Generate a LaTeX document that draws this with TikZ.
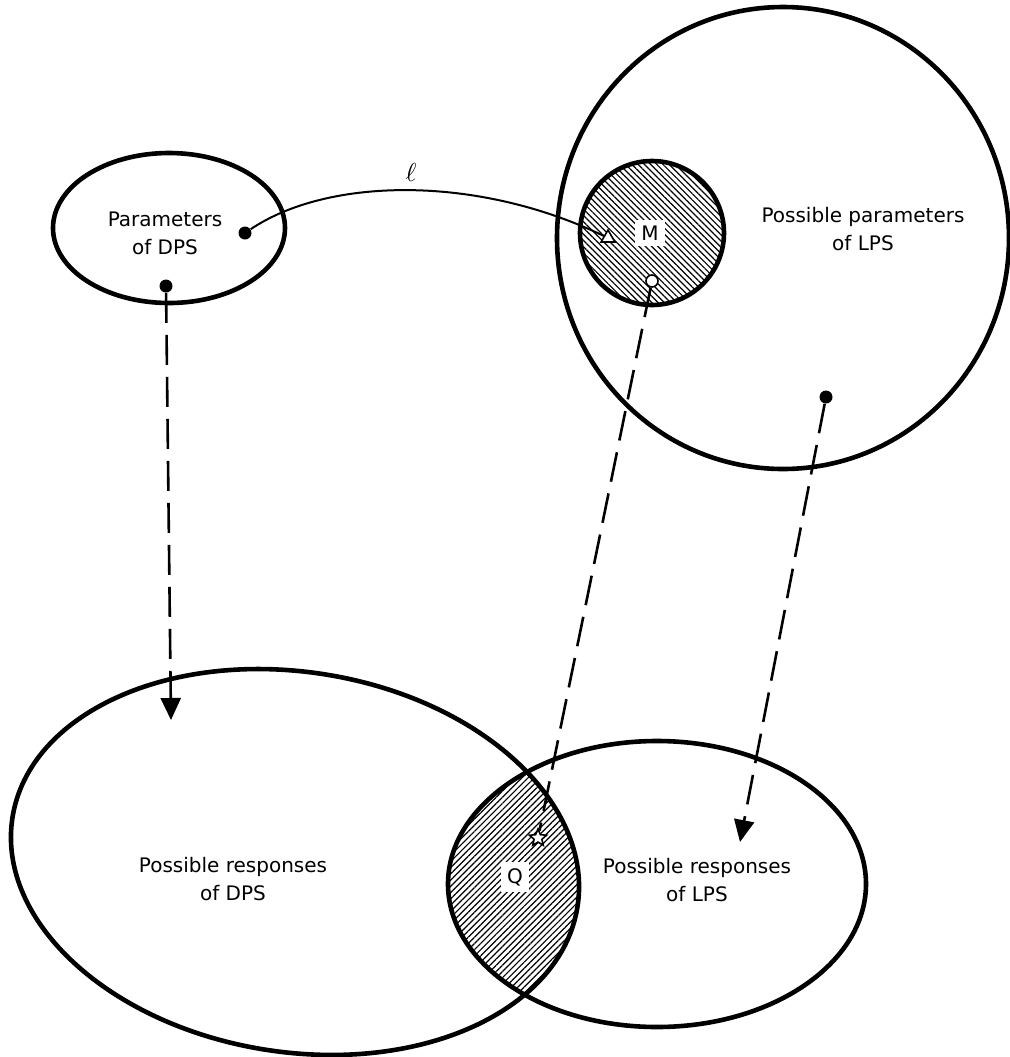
\documentclass[tikz,border=0pt]{standalone}
\usepackage{fontspec}
\setmainfont{DejaVu Sans}
\usetikzlibrary{arrows.meta,patterns.meta,shapes.geometric}
\tikzset{
	set/.style={line width=2.3pt},
	dot/.style={circle,fill,inner sep=0pt,minimum size=6.5pt},
	map/.style={line width=1.3pt,dash pattern=on 15pt off 6pt},
	tip/.style={-{Triangle[width=10pt,length=11pt]}},
	lbl/.style={align=center,font=\fontsize{10}{14}\selectfont},
	tag/.style={fill=white,inner sep=3pt,font=\fontsize{10}{12}\selectfont},
	glyph/.style={draw,fill=white,line width=0.8pt,inner sep=0pt},
	hatchM/.style={pattern={Lines[angle=-45,distance=2.2pt,line width=0.6pt]}},
	hatchQ/.style={pattern={Lines[angle=45,distance=2.2pt,line width=0.6pt]}},
}
\begin{document}
\begin{tikzpicture}[x=0.5pt,y=-0.5pt]
	\useasboundingbox (0,0) rectangle (1010,1057);
	\coordinate (pd) at (169,228);
	\coordinate (pl) at (783,238);
	\coordinate (mc) at (652,233);
	\coordinate (rd) at (295,862);
	\coordinate (rl) at (657,884);
	
	\begin{scope}
		\clip[rotate around={-9:(rd)}] (rd) ellipse [x radius=286,y radius=190];
		\fill[hatchQ] (rl) ellipse [x radius=209,y radius=143];
	\end{scope}
	\fill[hatchM] (mc) circle [radius=72];
	
	\draw[set] (pd) ellipse [x radius=116,y radius=75];
	\draw[set] (pl) ellipse [x radius=226,y radius=231];
	\draw[set] (mc) circle [radius=72];
	\draw[set,rotate around={-9:(rd)}] (rd) ellipse [x radius=286,y radius=190];
	\draw[set] (rl) ellipse [x radius=209,y radius=143];
	
	\node[lbl] (tpd) at (165,233) {Parameters\\of DPS};
	\node[lbl] (tpl) at (863,229) {Possible parameters\\of LPS};
	\node[lbl] (trd) at (233,879) {Possible responses\\of DPS};
	\node[lbl] (trl) at (697,880) {Possible responses\\of LPS};
	\node[tag] (M) at (650,233) {M};
	\node[tag] (Q) at (515,877) {Q};
	
	\node[dot] (a) at (245,233) {};
	\node[dot] (b) at (166,286) {};
	\node[dot] (c) at (826,397) {};
	\node[glyph,regular polygon,regular polygon sides=3,minimum size=8pt] (t) at (608,238) {};
	\node[glyph,circle,minimum size=6pt] (o) at (652,281) {};
	\node[glyph,star,star points=5,star point ratio=2.2,minimum size=9pt] (s) at (538,838) {};
	\coordinate (bt) at (171,720);
	\coordinate (ct) at (740,842);
	
	\draw[line width=1pt] (a) .. controls (330,176) and (480,176) .. (t);
	\node[scale=1.3] (ell) at (411,172) {$\ell$};
	\draw[map,tip] (b) -- (bt);
	\draw[map] (o) -- (s);
	\draw[map,tip] (c) -- (ct);
\end{tikzpicture}
\end{document}
